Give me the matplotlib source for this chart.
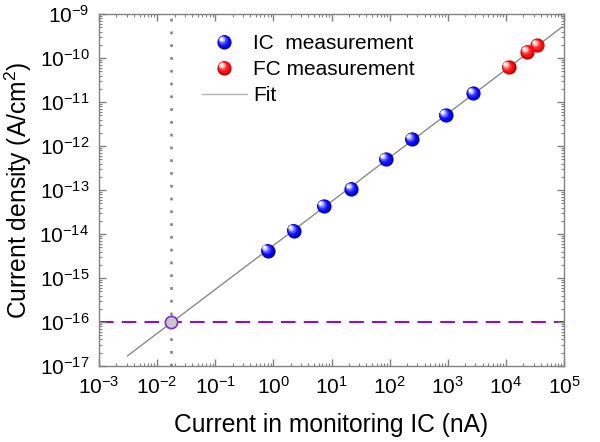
import numpy as np
import matplotlib
matplotlib.use("Agg")
import matplotlib.pyplot as plt
from matplotlib.lines import Line2D
from matplotlib.legend_handler import HandlerBase
from matplotlib.transforms import offset_copy
from matplotlib.colors import to_rgb
from matplotlib.ticker import LogLocator, FuncFormatter, NullFormatter

plt.rcParams['font.family'] = ['Liberation Sans', 'DejaVu Sans']
plt.rcParams['mathtext.default'] = 'regular'

# ---- data ----
ic_current = [0.80, 2.24, 7.3, 22, 85, 239, 917, 2770]            # nA
ic_density = [4.2e-15, 1.19e-14, 4.3e-14, 1.07e-13, 5.1e-13, 1.44e-12, 5.1e-12, 1.58e-11]
fc_current = [11100, 23500, 34900]
fc_density = [6.2e-11, 1.39e-10, 1.94e-10]
fit_slope = 1.0
fit_log_intercept = -14.26
fit_xrange = [0.0031, 9.3e4]
threshold_density = 1e-16
threshold_current = 0.0175
xlim = [1e-3, 1e5]
ylim = [1e-17, 1e-9]
labels = ['IC  measurement', 'FC measurement', 'Fit']

fig = plt.figure(figsize=(6.0, 4.42), dpi=100)
ax = fig.add_axes([0.165, 0.172, 0.775, 0.796])
ax.set_xscale('log')
ax.set_yscale('log')
ax.set_xlim(xlim)
ax.set_ylim(ylim)

white = np.array([1.0, 1.0, 1.0])
D = 10.2  # marker diameter in points


def sphere_layers(base, dark, d):
    base = np.array(to_rgb(base)); dark = np.array(to_rgb(dark))
    layers = [(0.0, 0.0, d, tuple(dark))]
    n = 8
    for i in range(n):
        t = i / (n - 1)
        ms = d * (0.9 - 0.62 * t)
        off = 0.03 * d + 0.2 * d * t
        col = base + (white - base) * (t ** 2) * 0.95
        layers.append((-off, off, ms, tuple(col)))
    return layers


def draw_spheres(xs, ys, base, dark):
    for dx, dy, ms, col in sphere_layers(base, dark, D):
        tr = offset_copy(ax.transData, fig=fig, x=dx, y=dy, units='points')
        ax.plot(xs, ys, ls='none', marker='o', ms=ms, mfc=col, mec='none',
                transform=tr, zorder=4)


class SphereHandler(HandlerBase):
    def __init__(self, base, dark):
        super().__init__()
        self.base = base
        self.dark = dark

    def create_artists(self, legend, orig_handle, xdescent, ydescent, width,
                       height, fontsize, trans):
        cx = width / 2 - xdescent
        cy = height / 2 - ydescent
        arts = []
        for dx, dy, ms, col in sphere_layers(self.base, self.dark, D):
            arts.append(Line2D([cx + dx], [cy + dy], ls='none', marker='o',
                               ms=ms, mfc=col, mec='none', transform=trans))
        return arts


# fit line
fx = np.array(fit_xrange)
fy = 10 ** (fit_log_intercept + fit_slope * np.log10(fx))
fit_line, = ax.plot(fx, fy, color='#8a8a8a', lw=1.0, zorder=2)

# threshold lines
ax.axhline(threshold_density, color='#9a00d0', lw=1.4, ls=(0, (7.5, 4.2)), zorder=1)
ax.axvline(threshold_current, color='#8c8c8c', lw=2.0, ls=(0, (1, 3.6)), zorder=1)
ax.plot([threshold_current], [threshold_density], ls='none', marker='o', ms=8.8,
        mfc='#c8c8c8', mec='#7a2ae0', mew=1.2, zorder=5)

# measurement spheres
draw_spheres(ic_current, ic_density, '#0000ff', '#0000a0')
draw_spheres(fc_current, fc_density, '#ff0000', '#b00000')

h_ic = Line2D([], [], ls='none')
h_fc = Line2D([], [], ls='none')
leg = ax.legend([h_ic, h_fc, fit_line], labels,
                handler_map={h_ic: SphereHandler('#0000ff', '#0000a0'),
                             h_fc: SphereHandler('#ff0000', '#b00000')},
                loc='upper left', bbox_to_anchor=(0.2215, 0.943), frameon=False,
                fontsize=15, handlelength=2.15, handletextpad=0.3,
                labelspacing=0.33, borderaxespad=0.0, borderpad=0.0)
fit_handle = leg.legend_handles[2]
fit_handle.set_color('#b4b4b4')

# axes styling
spine_col = '#808080'
for s in ax.spines.values():
    s.set_color(spine_col)
    s.set_linewidth(1.0)

fmt = FuncFormatter(lambda v, p: r'$10^{%d}$' % int(round(np.log10(v))))
for axis in (ax.xaxis, ax.yaxis):
    axis.set_major_locator(LogLocator(base=10, numticks=20))
    axis.set_minor_locator(LogLocator(base=10, subs=np.arange(2, 10), numticks=20))
    axis.set_major_formatter(fmt)
    axis.set_minor_formatter(NullFormatter())

ax.tick_params(which='both', direction='in', top=True, right=True, color=spine_col)
ax.tick_params(which='major', length=5, width=1.0, labelsize=15, pad=7)
ax.tick_params(which='minor', length=2.5, width=0.8)

ax.set_xlabel('Current in monitoring IC (nA)', fontsize=17.7, labelpad=11)
ax.set_ylabel('Current density (A/cm$^2$)', fontsize=17.7, labelpad=4)

fig.savefig('out.png', dpi=100)
